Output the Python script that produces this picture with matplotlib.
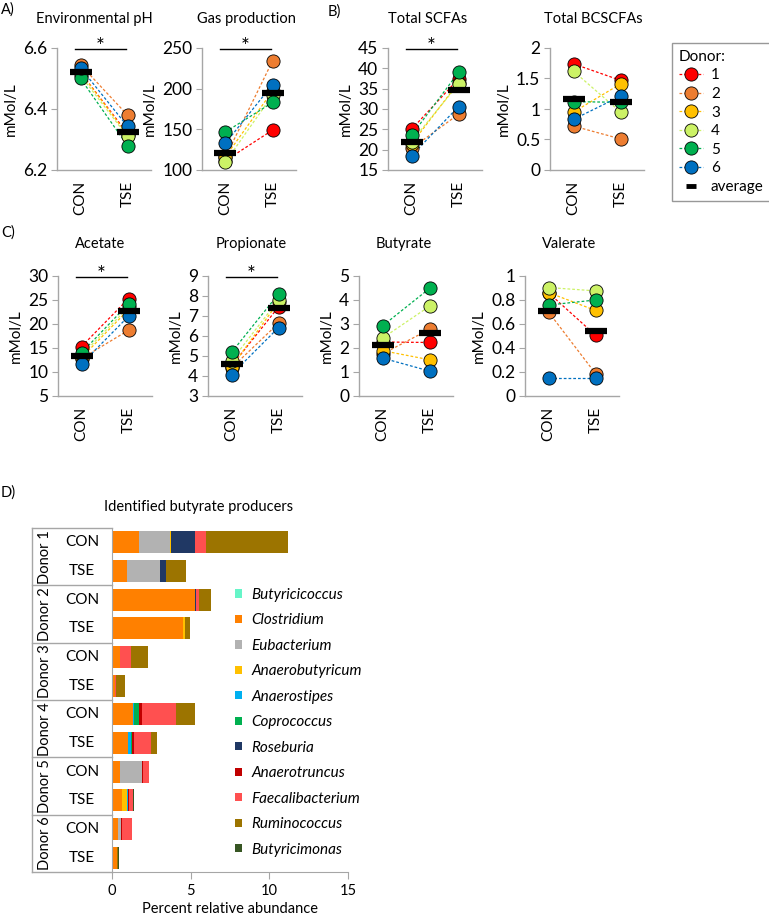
import numpy as np
import matplotlib.pyplot as plt
import matplotlib.transforms as mtransforms
from matplotlib.lines import Line2D
from matplotlib.patches import Patch

plt.rcParams['font.family'] = ['Lato', 'DejaVu Sans']

W, H = 769, 919

# donors and groups
donors = ['1', '2', '3', '4', '5', '6']
donor_colors = ['#FF0000', '#ED7D31', '#FFC000', '#CCF266', '#00B050', '#0070C0']
groups = ['CON', 'TSE']

# panel A
ph_con = [6.52, 6.545, 6.52, 6.51, 6.50, 6.535]
ph_tse = [6.32, 6.38, 6.315, 6.31, 6.28, 6.343]
ph_avg = [6.521, 6.324]
gas_con = [111.6, 116, 116.5, 110, 146.8, 133]
gas_tse = [149, 234, 197, 192, 183, 205]
gas_avg = [120.7, 194.3]

# panel B
scfa_con = [25.0, 20.3, 21.4, 22.0, 23.5, 18.5]
scfa_tse = [37.4, 28.7, 36.5, 36.1, 39.0, 30.6]
scfa_avg = [22.0, 34.7]
bcscfa_con = [1.74, 0.72, 0.95, 1.62, 1.12, 0.83]
bcscfa_tse = [1.47, 0.51, 1.41, 0.95, 1.11, 1.21]
bcscfa_avg = [1.17, 1.11]

# panel C
acetate_con = [15.3, 12.8, 13.0, 13.5, 14.0, 11.7]
acetate_tse = [25.3, 18.7, 23.0, 23.5, 24.2, 21.6]
acetate_avg = [13.3, 22.75]
propionate_con = [4.5, 4.4, 4.45, 4.77, 5.18, 4.07]
propionate_tse = [7.45, 6.64, 7.7, 7.8, 8.1, 6.42]
propionate_avg = [4.59, 7.42]
butyrate_con = [2.25, 1.75, 1.89, 2.41, 2.92, 1.58]
butyrate_tse = [2.23, 2.78, 1.51, 3.74, 4.48, 1.04]
butyrate_avg = [2.12, 2.64]
valerate_con = [0.86, 0.70, 0.862, 0.904, 0.758, 0.146]
valerate_tse = [0.507, 0.187, 0.713, 0.876, 0.80, 0.146]
valerate_avg = [0.711, 0.543]

# panel D
rows = ['CON', 'TSE'] * 6
donor_groups = ['Donor 1', 'Donor 2', 'Donor 3', 'Donor 4', 'Donor 5', 'Donor 6']
species = ['Butyricicoccus', 'Clostridium', 'Eubacterium', 'Anaerobutyricum', 'Anaerostipes',
           'Coprococcus', 'Roseburia', 'Anaerotruncus', 'Faecalibacterium', 'Ruminococcus',
           'Butyricimonas']
species_colors = ['#66F5C8', '#FF8000', '#B2B2B2', '#FFC000', '#00B0F0', '#00B050',
                  '#203864', '#C00000', '#FF5050', '#9C7400', '#375623']
butyricicoccus = [0, 0, 0, 0, 0.06, 0, 0, 0, 0.08, 0.08, 0, 0]
clostridium = [1.69, 0.97, 5.30, 4.49, 0.42, 0.19, 1.33, 1.02, 0.45, 0.57, 0.38, 0.32]
eubacterium = [1.97, 2.08, 0, 0, 0, 0, 0, 0, 1.38, 0, 0.20, 0]
anaerobutyricum = [0.08, 0, 0, 0.15, 0, 0, 0, 0, 0, 0.32, 0, 0]
anaerostipes = [0.04, 0, 0, 0, 0, 0, 0.08, 0.17, 0, 0.06, 0, 0]
coprococcus = [0, 0, 0, 0, 0, 0, 0.30, 0.10, 0, 0, 0, 0]
roseburia = [1.52, 0.40, 0.06, 0, 0, 0, 0, 0, 0, 0, 0, 0]
anaerotruncus = [0, 0, 0, 0, 0, 0, 0.19, 0.10, 0.06, 0.05, 0.03, 0]
faecalibacterium = [0.66, 0, 0.15, 0, 0.74, 0.08, 2.18, 1.08, 0.40, 0.25, 0.68, 0]
ruminococcus = [5.23, 1.27, 0.78, 0.32, 1.04, 0.55, 1.17, 0.38, 0, 0, 0, 0.06]
butyricimonas = [0, 0, 0, 0, 0, 0, 0, 0, 0, 0.10, 0, 0.06]
abundance = [butyricicoccus, clostridium, eubacterium, anaerobutyricum, anaerostipes,
             coprococcus, roseburia, anaerotruncus, faecalibacterium, ruminococcus,
             butyricimonas]

spine_gray = '#A6A6A6'

fig = plt.figure(figsize=(W / 100, H / 100), dpi=100)


def px_rect(left, top, width, height):
    return [left / W, 1 - (top + height) / H, width / W, height / H]


def paired_panel(left, top, height, con, tse, avg, ylim, yticks, sig=False):
    ax = fig.add_axes(px_rect(left, top, 94, height))
    x = [0, 1]
    for i in range(len(donors)):
        ax.plot(x, [con[i], tse[i]], ls=(0, (2.2, 1.6)), lw=0.9,
                color=donor_colors[i], zorder=2)
    for i in range(len(donors)):
        ax.plot(x, [con[i], tse[i]], ls='none', marker='o', ms=9.5,
                mfc=donor_colors[i], mec='black', mew=0.6, zorder=3 + i)
    ax.plot(x, avg, ls='none', marker='_', ms=16.5, mew=4.5, color='black', zorder=10)
    ax.set_xlim(-0.5, 1.5)
    ax.set_ylim(*ylim)
    ax.set_yticks(yticks)
    ax.set_yticklabels(['%g' % t for t in yticks])
    ax.set_xticks(x)
    ax.set_xticklabels(groups, rotation=90, fontsize=11)
    ax.tick_params(axis='x', length=0, pad=8)
    ax.tick_params(axis='y', labelsize=12.5, length=4, color=spine_gray, pad=3)
    for s in ['top', 'right']:
        ax.spines[s].set_visible(False)
    for s in ['left', 'bottom']:
        ax.spines[s].set_color(spine_gray)
        ax.spines[s].set_linewidth(1)
    ax.set_ylabel('mMol/L', fontsize=11, labelpad=4)
    if sig:
        tr = mtransforms.blended_transform_factory(ax.transData, ax.transAxes)
        ax.plot([-0.12, 0.97], [0.99, 0.99], color='black', lw=1, transform=tr, clip_on=False)
        ax.annotate('*', xy=(0.425, 0.99), xycoords=tr, xytext=(0, -2.5),
                    textcoords='offset points', ha='center', va='baseline', fontsize=15)
    return ax


# A / B panels
paired_panel(57, 48, 122, ph_con, ph_tse, ph_avg, (6.2, 6.6), [6.2, 6.4, 6.6], sig=True)
paired_panel(202, 48, 122, gas_con, gas_tse, gas_avg, (100, 250), [100, 150, 200, 250], sig=True)
paired_panel(388, 48, 122, scfa_con, scfa_tse, scfa_avg, (15, 45), [15, 20, 25, 30, 35, 40, 45], sig=True)
paired_panel(550, 48, 122, bcscfa_con, bcscfa_tse, bcscfa_avg, (0, 2), [0, 0.5, 1, 1.5, 2])

# C panels
paired_panel(58, 276, 120, acetate_con, acetate_tse, acetate_avg, (5, 30), [5, 10, 15, 20, 25, 30], sig=True)
paired_panel(208, 276, 120, propionate_con, propionate_tse, propionate_avg, (3, 9), [3, 4, 5, 6, 7, 8, 9], sig=True)
paired_panel(359, 276, 120, butyrate_con, butyrate_tse, butyrate_avg, (0, 5), [0, 1, 2, 3, 4, 5])
paired_panel(525, 276, 120, valerate_con, valerate_tse, valerate_avg, (0, 1), [0, 0.2, 0.4, 0.6, 0.8, 1])

# titles
titles = [('Environmental pH', 94, 19), ('Gas production', 246, 19), ('Total SCFAs', 428, 19),
          ('Total BCSCFAs', 593, 19), ('Acetate', 100, 244), ('Propionate', 251, 244),
          ('Butyrate', 404, 244), ('Valerate', 569, 244),
          ('Identified butyrate producers', 199, 507)]
for t, xp, yp in titles:
    fig.text(xp / W, 1 - yp / H, t, ha='center', va='center', fontsize=10.5)

for t, xp, yp in [('A)', 1, 10), ('B)', 328, 12), ('C)', 1, 233), ('D)', 1, 493)]:
    fig.text(xp / W, 1 - yp / H, t, ha='left', va='center', fontsize=10.5)

# donor legend
handles = [Line2D([0], [0], ls=(0, (2.2, 1.6)), lw=0.9, color=c, marker='o', ms=9.5,
                  mfc=c, mec='black', mew=0.6) for c in donor_colors]
handles.append(Line2D([0], [0], ls='none', marker='_', ms=7, mew=3.5, color='black'))
leg = fig.legend(handles, donors + ['average'], loc='upper left',
                 bbox_to_anchor=(672 / W, 1 - 43 / H), borderaxespad=0, frameon=True,
                 fancybox=False, edgecolor='#7F7F7F', fontsize=11, title='Donor:',
                 title_fontsize=11, alignment='left', handlelength=1.6, handletextpad=0.5,
                 labelspacing=0.3, borderpad=0.45)
leg.get_frame().set_linewidth(1)

# panel D
axd = fig.add_axes(px_rect(112, 528, 236, 344))
y = np.arange(len(rows))
left = np.zeros(len(rows))
for vals, col in zip(abundance, species_colors):
    axd.barh(y, vals, left=left, height=0.77, color=col, lw=0)
    left += np.array(vals)
axd.set_xlim(0, 15)
axd.set_ylim(len(rows) - 0.5, -0.5)
axd.set_xticks([0, 5, 10, 15])
axd.set_yticks([])
axd.tick_params(axis='x', labelsize=10.5, length=5, color=spine_gray)
axd.set_xlabel('Percent relative abundance', fontsize=10.5, labelpad=3)
for s in ['top', 'right']:
    axd.spines[s].set_visible(False)
for s in ['left', 'bottom']:
    axd.spines[s].set_color(spine_gray)

tr = mtransforms.blended_transform_factory(axd.transAxes, axd.transData)
x0 = (32 - 112) / 236
for yy in np.arange(-0.5, len(rows), 2):
    axd.plot([x0, 0], [yy, yy], color=spine_gray, lw=1, transform=tr, clip_on=False)
axd.plot([x0, x0], [-0.5, len(rows) - 0.5], color=spine_gray, lw=1, transform=tr, clip_on=False)
for i, r in enumerate(rows):
    axd.text((82 - 112) / 236, i, r, transform=tr, ha='center', va='center', fontsize=11)
for k, g in enumerate(donor_groups):
    axd.text((45 - 112) / 236, 2 * k + 0.5, g, transform=tr, ha='center', va='center',
             rotation=90, fontsize=10.5)

sp_handles = [Patch(facecolor=c, edgecolor='none') for c in species_colors]
fig.legend(sp_handles, species, loc='upper left', bbox_to_anchor=(235 / W, 1 - 588 / H),
           borderaxespad=0, frameon=False, borderpad=0, handlelength=0.45, handleheight=0.45,
           handletextpad=0.6, labelspacing=0.75, prop={'style': 'italic', 'size': 11})

fig.savefig('out.png', dpi=100)
